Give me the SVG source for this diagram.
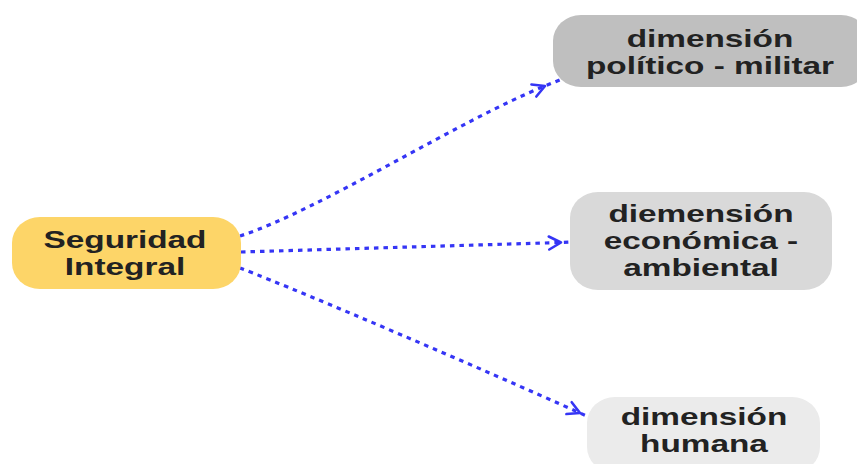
<svg xmlns="http://www.w3.org/2000/svg" width="857" height="464" viewBox="0 0 857 464">
  <style>
    .lbl { font-family: "Liberation Sans", Arial, sans-serif; font-weight: bold; font-size: 23px; fill: #222222; text-anchor: middle; }
    .conn { fill: none; stroke: #3535f5; stroke-width: 3.2; stroke-dasharray: 4.5 5; marker-mid: url(#chev); }
  </style>
  <defs>
    <marker id="chev" markerUnits="userSpaceOnUse" markerWidth="30" markerHeight="30" refX="15" refY="15" orient="auto" viewBox="0 0 30 30" overflow="visible">
      <polyline points="3,8.5 15,15 3,21.5" fill="none" stroke="#3535f5" stroke-width="2.6" stroke-linecap="round" stroke-linejoin="round"/>
    </marker>
  </defs>
  <rect width="857" height="464" fill="#ffffff"/>
  <g id="connectors">
    <path class="conn" d="M240,236 C320,210 460,120 545,86 L562,79"/>
    <path class="conn" d="M241,252 L561,242.5 L570,242"/>
    <path class="conn" d="M240,268 C310,295 480,368 580,413 L589,417"/>
  </g>
  <g id="seguridad-integral">
    <rect x="12" y="217" width="229" height="72" rx="28" ry="26" fill="#fdd568"/>
    <text class="lbl" transform="matrix(1.45,0,0,1,125,0)"><tspan x="0" y="248">Seguridad</tspan><tspan x="0" y="275">Integral</tspan></text>
  </g>
  <g id="dimension-politico-militar">
    <rect x="553" y="15" width="316" height="72" rx="28" ry="26" fill="#bfbfbf"/>
    <text class="lbl" transform="matrix(1.45,0,0,1,710,0)"><tspan x="0" y="47">dimensión</tspan><tspan x="0" y="74">político - militar</tspan></text>
  </g>
  <g id="dimension-economica-ambiental">
    <rect x="570" y="192" width="262" height="98" rx="28" ry="26" fill="#d9d9d9"/>
    <text class="lbl" transform="matrix(1.45,0,0,1,701,0)"><tspan x="0" y="222">diemensión</tspan><tspan x="0" y="249">económica -</tspan><tspan x="0" y="276">ambiental</tspan></text>
  </g>
  <g id="dimension-humana">
    <rect x="587" y="397" width="233" height="76" rx="28" ry="26" fill="#ebebeb"/>
    <text class="lbl" transform="matrix(1.45,0,0,1,704,0)"><tspan x="0" y="425">dimensión</tspan><tspan x="0" y="452">humana</tspan></text>
  </g>
</svg>
